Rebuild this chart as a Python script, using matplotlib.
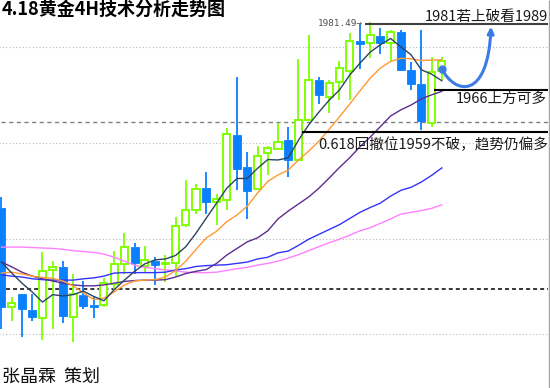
# 4.18 gold 4H chart: candles + 5 moving averages + hand-drawn levels
import numpy as np
import matplotlib
matplotlib.use("Agg")
import matplotlib.pyplot as plt
from matplotlib.path import Path
from matplotlib.patches import FancyArrowPatch

plt.rcParams['font.family'] = ['Noto Sans CJK SC', 'DejaVu Sans']

# ---- data (USD/oz, oldest bar first) ----
opens = [1939.2, 1916.7, 1919.7, 1916.1, 1914.4, 1925.1, 1925.9, 1914.6, 1919.5, 1917.2,
         1917.2, 1922.0, 1926.5, 1930.4, 1926.2, 1927.3, 1926.5, 1926.9, 1935.4, 1938.9,
         1943.8, 1940.6, 1941.1, 1955.9, 1948.5, 1943.5, 1951.7, 1952.8, 1954.7, 1950.2,
         1959.4, 1968.4, 1964.6, 1967.9, 1970.5, 1977.3, 1976.7, 1978.4, 1976.9, 1979.3,
         1970.7, 1967.5, 1958.7, 1970.5]
highs = [1941.9, 1919.0, 1919.8, 1919.7, 1929.3, 1927.3, 1927.2, 1924.3, 1922.7, 1919.1,
         1923.4, 1929.5, 1933.7, 1931.3, 1930.6, 1928.1, 1928.6, 1937.2, 1945.6, 1944.8,
         1947.5, 1942.5, 1957.5, 1969.1, 1952.1, 1953.4, 1953.4, 1958.5, 1957.7, 1973.2,
         1978.6, 1969.0, 1968.4, 1972.7, 1979.1, 1981.0, 1981.49, 1980.3, 1979.7, 1979.7,
         1972.5, 1979.7, 1973.6, 1973.6]
lows = [1911.7, 1913.5, 1910.0, 1913.7, 1909.3, 1911.7, 1913.2, 1908.8, 1916.3, 1914.2,
        1916.7, 1920.6, 1924.4, 1924.3, 1924.7, 1921.9, 1922.4, 1923.8, 1934.9, 1937.9,
        1938.0, 1935.4, 1938.8, 1943.4, 1936.7, 1943.3, 1946.8, 1952.7, 1946.4, 1950.0,
        1959.3, 1962.9, 1960.8, 1963.8, 1963.8, 1970.8, 1973.3, 1974.4, 1972.5, 1970.5,
        1966.1, 1957.0, 1957.6, 1968.4]
closes = [1916.7, 1917.6, 1916.3, 1914.6, 1925.0, 1925.8, 1914.7, 1919.7, 1917.1, 1916.8,
          1922.2, 1926.6, 1930.4, 1926.7, 1927.4, 1926.4, 1926.9, 1935.1, 1938.8, 1943.5,
          1940.6, 1941.3, 1956.0, 1948.2, 1943.2, 1951.2, 1952.9, 1954.4, 1950.2, 1959.4,
          1968.4, 1965.0, 1967.6, 1971.0, 1977.3, 1976.5, 1978.5, 1976.9, 1979.3, 1970.7,
          1967.5, 1959.1, 1970.3, 1972.6]

ma_fast = [1927.0, 1924.5, 1922.2, 1920.2, 1917.9, 1919.6, 1919.3, 1919.6, 1920.4, 1919.2,
           1918.2, 1920.7, 1922.9, 1924.9, 1926.6, 1927.5, 1927.7, 1928.5, 1930.5, 1933.6,
           1937.0, 1940.4, 1943.8, 1946.0, 1946.0, 1948.3, 1950.3, 1950.2, 1950.7, 1954.7,
           1958.2, 1961.1, 1963.8, 1966.1, 1969.5, 1972.2, 1974.7, 1976.4, 1977.8, 1975.9,
           1974.1, 1970.7, 1969.7, 1968.2]
ma_orange = [1924.5, 1924.7, 1924.3, 1923.8, 1923.5, 1923.3, 1922.7, 1921.6, 1920.0, 1918.5,
             1918.8, 1920.2, 1921.8, 1922.7, 1922.9, 1923.0, 1923.6, 1925.1, 1927.2, 1929.9,
             1932.5, 1934.0, 1936.2, 1937.7, 1939.7, 1942.7, 1945.3, 1946.8, 1947.9, 1950.2,
             1952.2, 1954.5, 1957.2, 1960.0, 1962.9, 1965.9, 1968.8, 1971.1, 1972.6, 1973.3,
             1973.2, 1972.8, 1972.9, 1973.0]
ma_purple = [1927.0, 1925.9, 1924.7, 1923.8, 1923.2, 1922.7, 1922.2, 1921.8, 1921.6, 1921.6,
             1921.8, 1922.2, 1922.6, 1922.8, 1922.9, 1922.9, 1923.0, 1923.6, 1924.4, 1924.9,
             1925.3, 1926.7, 1928.6, 1930.1, 1931.6, 1932.5, 1934.1, 1936.8, 1938.6, 1940.2,
             1941.8, 1943.8, 1946.1, 1948.5, 1950.7, 1953.2, 1955.4, 1957.8, 1960.2, 1961.6,
             1962.7, 1964.1, 1965.0, 1965.8]
ma_blue = [1924.1, 1923.8, 1923.6, 1923.2, 1923.0, 1922.9, 1922.9, 1922.9, 1923.2, 1923.4,
           1923.8, 1924.5, 1924.6, 1924.6, 1924.6, 1924.6, 1924.7, 1925.2, 1925.5, 1926.0,
           1926.2, 1926.3, 1926.4, 1926.7, 1927.0, 1927.7, 1928.1, 1929.1, 1929.5, 1930.8,
           1932.2, 1933.3, 1934.4, 1935.5, 1936.9, 1938.3, 1939.4, 1940.4, 1942.0, 1943.3,
           1944.0, 1945.2, 1946.7, 1948.4]
ma_pink = [1930.4, 1930.4, 1930.4, 1930.3, 1930.2, 1930.1, 1929.9, 1929.6, 1929.4, 1929.2,
           1928.8, 1928.1, 1927.2, 1926.3, 1925.8, 1925.5, 1925.2, 1925.0, 1924.7, 1924.6,
           1924.6, 1924.7, 1925.1, 1925.5, 1925.8, 1926.3, 1926.7, 1927.2, 1927.9, 1928.7,
           1929.6, 1930.5, 1931.4, 1932.2, 1933.1, 1934.1, 1934.8, 1935.8, 1936.8, 1937.9,
           1938.3, 1938.7, 1939.2, 1940.0]

grid_levels = [1975.8, 1954.0, 1932.2, 1910.6]
gray_dash_level = 1958.8
black_dash_level = 1920.8
swing_high = 1981.49
line_1981 = 1981.1
line_1966 = 1966.1
line_0618 = 1956.6

title = '4.18黄金4H技术分析走势图'
note_1981 = '1981若上破看1989'
note_1966 = '1966上方可多'
note_0618 = '0.618回撤位1959不破，趋势仍偏多'
footer = '张晶霖  策划'

GREEN = '#80ff00'
BLUE = '#0a80ff'

fig = plt.figure(figsize=(5.5, 3.88), dpi=100)
ax = fig.add_axes([0, 0, 1, 1])
ax.set_xlim(-0.146, 53.56)
ax.set_ylim(1898.38, 1986.56)
ax.axis('off')

# grid / reference levels
x_end = 53.4
for lv in grid_levels:
    ax.hlines(lv, -0.2, x_end, color='#b8b8b8', lw=0.8, ls=(0, (1, 2)), zorder=1)
ax.hlines(gray_dash_level, 0.0, x_end, color='#808080', lw=1.0, ls=(0, (3, 2.5)), zorder=1)
ax.hlines(black_dash_level, -0.2, x_end, color='black', lw=1.1, ls=(0, (2.6, 2.0)), zorder=1)
ax.vlines(x_end + 0.05, 1898.38, 1986.56, color='#a8a8a8', lw=1.0, zorder=1)

# candles
o, h, l, c = (np.array(a) for a in (opens, highs, lows, closes))
idx = np.arange(len(o))
up = c >= o
top = np.maximum(o, c)
bot = np.minimum(o, c)
body = np.maximum(top - bot, 0.35)
cols = np.where(up, GREEN, BLUE)
ax.vlines(idx, top, h, colors=cols, lw=1.3, zorder=2)
ax.vlines(idx, l, bot, colors=cols, lw=1.3, zorder=2)
ax.bar(idx[up], body[up], bottom=bot[up], width=0.7, facecolor='white',
       edgecolor=GREEN, linewidth=1.4, zorder=2)
ax.bar(idx[~up], body[~up], bottom=bot[~up], width=0.78, facecolor=BLUE,
       edgecolor=BLUE, linewidth=0.6, zorder=2)

# moving averages
ax.plot(idx, ma_pink, color='#ff80ff', lw=1.0, zorder=3)
ax.plot(idx, ma_blue, color='#3333ff', lw=1.0, zorder=3)
ax.plot(idx, ma_purple, color='#5c2d91', lw=1.0, zorder=3)
ax.plot(idx, ma_orange, color='#ff9933', lw=1.0, zorder=3)
ax.plot(idx, ma_fast, color='#2b4560', lw=1.0, zorder=3)

# hand-drawn levels and notes
ax.hlines(line_1981, 35.5, x_end, color='#404040', lw=1.5, zorder=4)
ax.hlines(line_1966, 42.2, x_end, color='black', lw=1.5, zorder=4)
ax.hlines(line_0618, 29.3, x_end, color='black', lw=1.5, zorder=4)
ax.text(30.9, swing_high - 0.3, f'{swing_high:.2f}→', family='DejaVu Sans Mono',
        fontsize=6.7, color='#505050', ha='left', va='center', zorder=5)
ax.text(x_end, 1982.6, note_1981, ha='right', va='center', fontsize=10.5,
        color='#1a1a1a', zorder=5)
ax.text(53.24, 1964.1, note_1966, ha='right', va='center', fontsize=10.5,
        color='#1a1a1a', zorder=5)
ax.text(x_end, 1953.6, note_0618, ha='right', va='center', fontsize=10.5,
        color='#1a1a1a', zorder=5)

# forecast arrow from last bar
arrow_col = '#3c7be6'
start = (idx[-1], 1970.9)
path = Path([start, (44.3, 1965.0), (47.5, 1963.8), (47.8, 1980.5)],
            [Path.MOVETO, Path.CURVE4, Path.CURVE4, Path.CURVE4])
ax.add_patch(FancyArrowPatch(path=path, arrowstyle='-|>', mutation_scale=9,
                             color=arrow_col, lw=2.2, zorder=6))
ax.plot(*start, 'o', ms=5, color=arrow_col, zorder=6)

fig.text(0.003, 1 - 9 / 388, title, fontsize=13, fontweight='bold',
         ha='left', va='center', color='black')
fig.text(0.003, 1 - 377.5 / 388, footer, fontsize=13, ha='left', va='center',
         color='#111111')

fig.savefig('out.png', dpi=100, facecolor='white')
